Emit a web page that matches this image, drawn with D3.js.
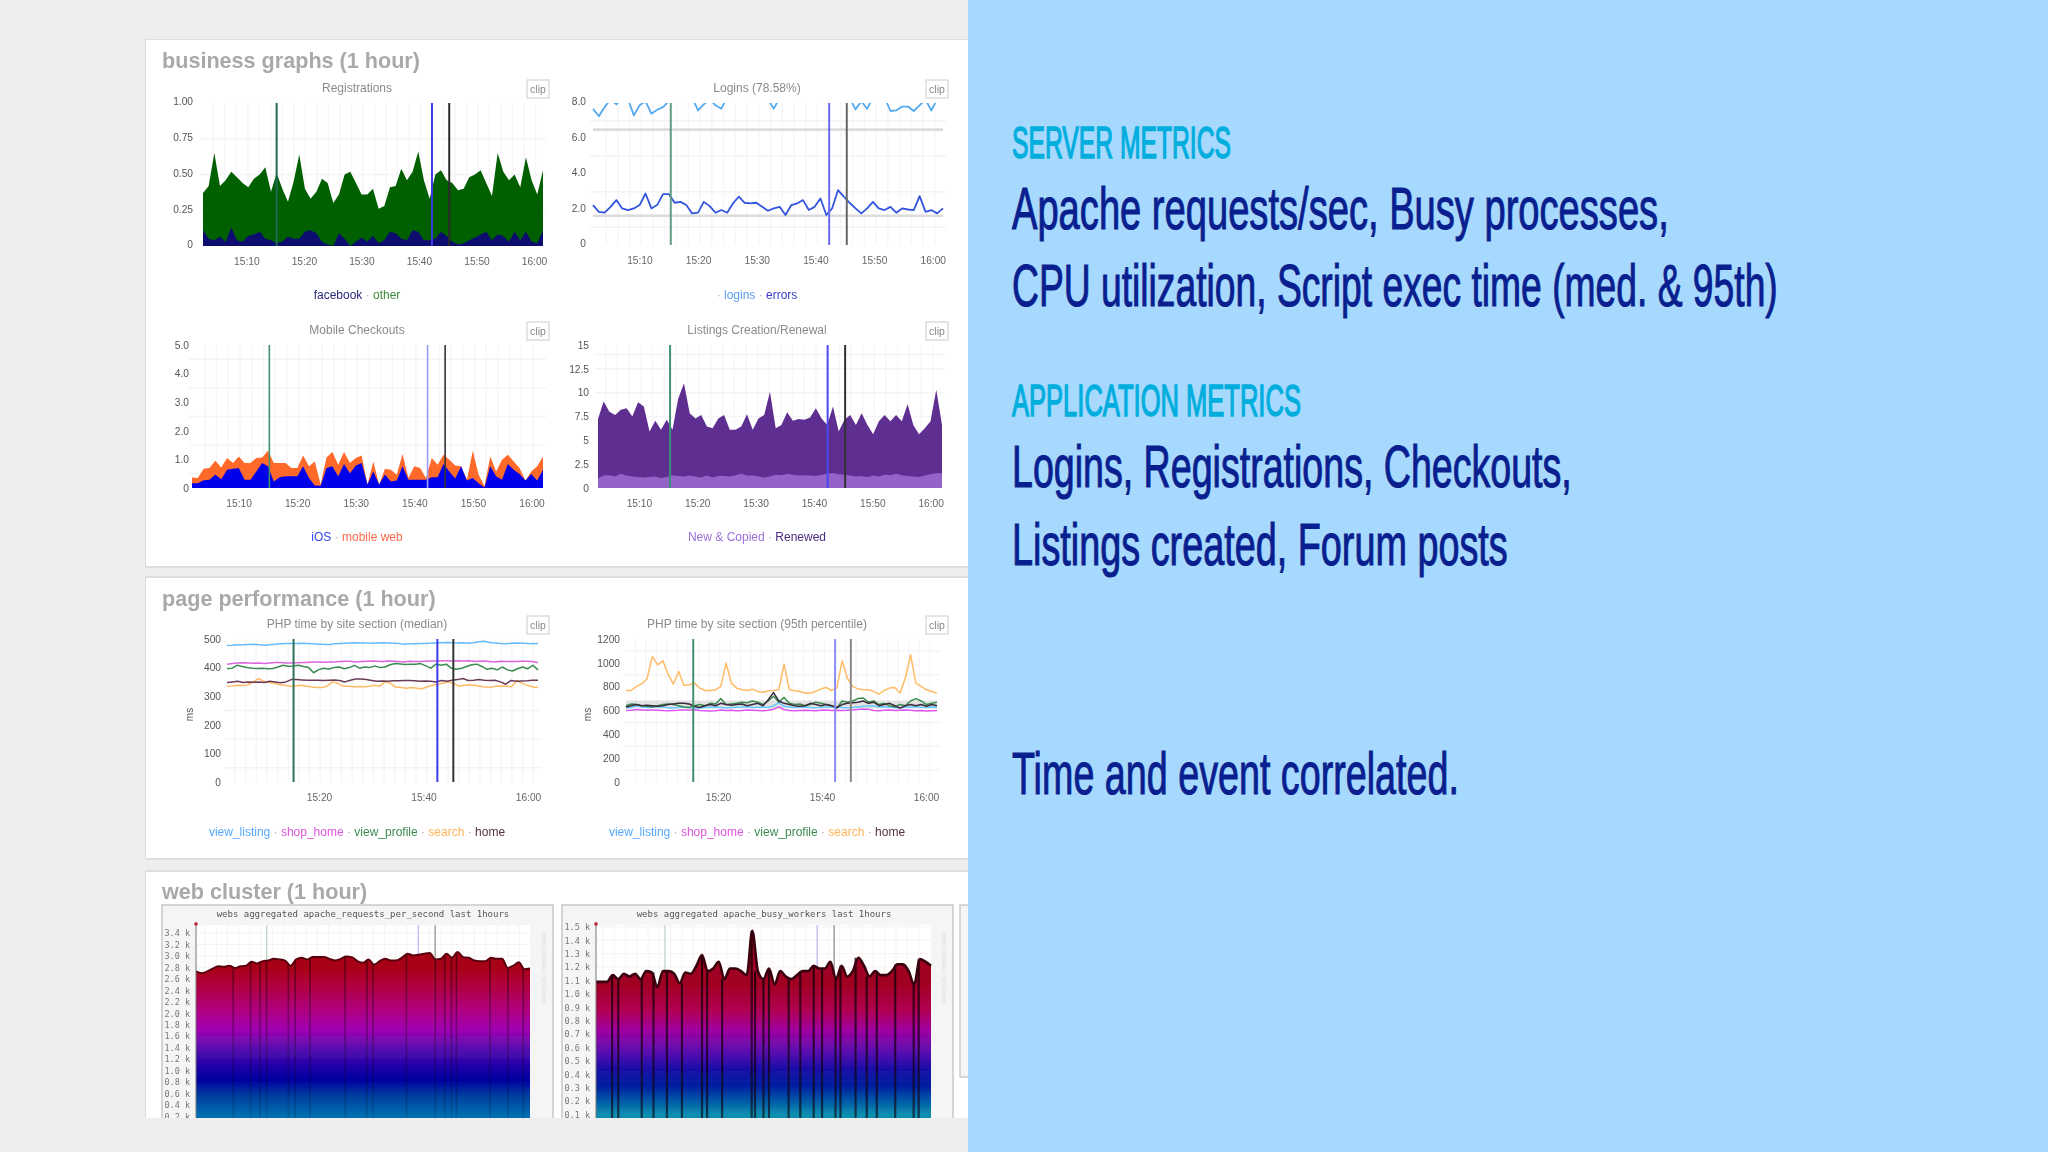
<!DOCTYPE html>
<html><head><meta charset="utf-8">
<script src="https://cdn.jsdelivr.net/npm/d3@7"></script>
<style>html,body{margin:0;padding:0;background:#eee}svg{display:block}text{font-family:"Liberation Sans",sans-serif}</style>
</head><body><svg id="c" width="2048" height="1152"></svg>
<script>
// ---------- data (minute samples, 15:02 -> 16:02) ----------
const sectionTitles = ["business graphs (1 hour)","page performance (1 hour)","web cluster (1 hour)"];
const eventMinutes = [15,42,45];

const regFacebook=[.11,.05,.04,.065,.03,.13,.04,.03,.07,.08,.10,.05,.04,.02,.03,.065,.05,.05,.10,.11,.09,.03,.01,0,.09,.05,0,.03,.06,.03,.07,.02,.04,.10,.09,.05,.04,.11,.10,.04,.04,.05,.10,.07,.03,.01,.02,.04,.06,.08,.10,.04,.08,.07,.03,.10,.04,.10,.03,.02,.11];
const regOther=[.37,.42,.65,.42,.46,.52,.48,.44,.41,.47,.50,.55,.38,.51,.40,.31,.45,.64,.40,.33,.38,.47,.44,.30,.36,.50,.52,.44,.36,.36,.40,.26,.28,.41,.42,.54,.46,.52,.66,.46,.33,.50,.53,.46,.44,.39,.40,.48,.50,.53,.44,.35,.65,.52,.46,.50,.41,.62,.46,.36,.53];

const loginsHits=[7.68,7.25,7.77,8.2,7.92,8.3,8.2,7.3,7.87,8.1,7.4,7.62,7.77,8.1,8.3,8.3,8.2,8.3,7.58,7.92,8.2,7.87,7.68,8.3,8.3,8.3,8.3,8.3,8.3,8.3,8.2,7.68,8.3,8.3,8.3,8.3,8.3,8.3,8.3,8.3,8.3,8.3,8.3,8.3,8.3,7.64,8.1,7.68,8.3,8.3,8.3,7.55,7.58,7.8,7.8,7.55,7.87,8.2,7.58,8.2,8.3];
const loginsErrors=[2.25,1.87,1.82,2.15,2.53,2.06,1.97,2.06,2.25,2.9,2.06,2.25,2.87,2.87,2.38,2.43,2.25,1.78,1.82,2.43,2.19,1.82,1.97,1.82,2.34,2.72,2.38,2.34,2.38,2.15,1.93,2.06,2.15,1.69,2.25,2.34,2.53,1.97,2.15,2.62,1.69,2.06,3.09,2.72,2.38,2.06,1.78,2.06,2.43,2.06,1.97,2.15,1.82,2.06,2.0,1.97,2.75,1.87,1.97,1.78,2.06];
const loginsBands=[6.5,1.65];

const mobileWeb=[.37,.35,.67,.7,.95,.72,1.05,.87,1.1,.87,.87,1.05,1.07,1.3,.87,.87,.87,.7,.7,1.14,.76,.93,.12,1.07,1.26,.81,1.26,.87,1.05,1.14,.12,.93,.12,.67,.64,.46,1.19,.35,.76,.7,.35,1.05,.81,1.16,.99,.79,.76,.29,1.3,.46,.06,1.1,.58,.99,1.16,.93,.7,.26,.58,.76,1.1];
const mobileIOS=[.17,.17,.27,.29,.47,.31,.64,.67,.7,.29,.29,.58,.87,.76,.23,.38,.41,.41,.41,.76,.35,.09,.08,.7,.76,.41,.84,.52,.79,.87,.12,.58,.12,.47,.23,.26,.76,.29,.29,.29,.29,.38,.38,.84,.58,.33,.76,.26,.35,.17,.02,.76,.41,.29,.84,.64,.49,.26,.49,.26,.64];

const listingsRenewed=[7.25,9.07,8.0,7.67,8.2,8.37,7.5,9.0,8.55,5.93,7.05,6.1,7.15,6.1,9.4,11,7.85,7.3,7.67,6.45,6.28,7.3,7.67,6.1,6.1,6.45,7.74,6.1,7.3,7.67,10.1,6.28,6.6,7.95,7.05,7.25,7.15,7.4,8.37,7.3,6.6,8.55,5.93,7.15,7.67,6.6,7.85,6.6,5.65,7,7.67,7,7.67,7,8.79,6.6,5.65,6.28,7,10.3,6.6];
const listingsNew=[1.0,1.3,1.35,1.2,1.5,1.3,1.2,1.15,1.1,1.15,1.2,1.05,1.15,1.35,1.25,1.2,1.3,1.2,1.1,1.3,1.1,1.25,1.25,1.2,1.35,1.5,1.3,1.3,1.2,1.1,1.2,1.4,1.35,1.5,1.4,1.3,1.35,1.3,1.25,1.4,1.5,1.55,1.45,1.4,1.3,1.2,1.25,1.15,1.3,1.2,1.4,1.35,1.5,1.35,1.25,1.2,1.15,1.3,1.45,1.55,1.55];

const medViewListing=[477,478,480,480,481,482,480,478,480,482,483,484,484,484,485,484,483,482,482,480,483,484,485,486,487,486,486,485,486,487,486,485,484,482,483,483,484,484,485,486,487,488,487,486,487,485,487,490,492,488,486,484,483,485,486,485,484,483,484];
const medShopHome=[412,414,416,417,416,415,416,414,416,418,418,416,416,417,418,418,420,420,419,420,420,421,422,422,420,421,422,423,422,421,423,422,421,420,422,421,421,422,423,423,424,424,423,424,423,424,422,422,423,421,420,422,421,421,421,422,422,421,417];
const medViewProfile=[397,398,408,404,400,398,397,398,396,397,402,408,405,406,408,404,400,382,393,398,395,400,402,396,400,408,398,402,400,406,400,402,410,414,413,411,412,412,414,406,398,412,408,412,398,394,398,404,410,412,404,394,398,392,402,392,388,396,402,396,408,392];
const medSearch=[335,336,338,337,340,350,362,352,348,345,340,338,335,336,338,336,332,330,330,335,350,345,335,335,333,334,333,335,338,335,350,345,332,330,328,330,328,326,333,338,342,345,350,345,335,338,340,338,335,332,331,335,336,335,333,355,345,338,332,330];
const medHome=[348,350,352,348,350,349,350,348,352,350,347,350,358,358,357,356,356,356,355,356,357,355,350,356,360,360,358,355,352,353,352,354,354,355,355,354,352,353,352,350,355,352,356,358,362,355,356,358,356,355,356,350,342,355,352,353,354,356,356];

const p95ViewListing=[620,625,640,630,625,628,632,630,622,620,625,630,625,622,620,625,628,630,625,622,625,628,630,632,625,628,630,625,640,665,635,630,625,628,630,625,622,628,630,632,628,625,622,626,630,635,638,640,630,632,630,625,622,628,630,632,628,625,630,628];
const p95ShopHome=[600,602,608,605,602,605,603,600,598,600,602,605,604,606,600,598,596,598,604,600,602,598,600,605,603,600,598,602,610,630,606,600,598,600,602,600,598,602,604,600,603,600,602,605,608,612,610,600,598,602,605,600,602,604,602,598,600,596,598,600];
const p95ViewProfile=[640,655,650,640,635,630,640,650,655,650,640,630,625,640,650,640,660,655,700,650,655,660,670,665,680,670,650,680,720,670,710,660,650,655,640,650,670,660,650,640,620,680,670,680,700,705,670,680,650,660,640,630,650,640,680,700,680,650,660,670];
const p95Search=[768,768,802,824,866,1053,983,1017,905,821,927,810,816,830,788,768,768,774,802,997,830,788,774,768,779,760,754,765,768,774,989,774,765,760,746,746,760,782,793,768,788,1017,871,802,782,774,774,760,737,768,788,793,746,871,1067,830,802,774,760,746];
const p95Home=[630,640,650,640,645,640,635,640,650,655,660,660,655,635,625,640,650,640,660,650,645,650,655,640,650,660,640,690,750,680,660,650,640,635,640,660,650,640,650,640,625,650,660,665,670,680,660,670,640,650,660,640,620,640,650,640,650,635,650,640];
const p95Band=[650];

const requestsTotal=[2.73,2.70,2.73,2.78,2.82,2.81,2.83,2.79,2.82,2.83,2.90,2.87,2.91,2.92,2.95,2.94,2.92,2.83,2.94,2.97,2.94,2.98,2.98,2.98,2.95,2.92,2.95,2.99,2.98,2.91,2.88,2.94,2.85,2.91,2.95,2.92,2.92,2.97,3.04,3.01,3.02,3.04,3.05,2.94,2.95,3.04,2.97,3.07,2.98,2.97,2.92,2.91,2.91,2.97,2.95,2.95,2.79,2.83,2.89,2.77,2.78];
const requestsDark=[6.7,9.8,11.5,12.7,16.6,17.8,20.5,26.8,30.7,31.8,37.8,43,44.7,45.9,46.8,52.8,56.1,58.8];
const requestsTicks=[3.4,3.2,3.0,2.8,2.6,2.4,2.2,2.0,1.8,1.6,1.4,1.2,1.0,0.8,0.6,0.4,0.2];
const requestsStopValues=[2.82,2.47,2.06,1.72,1.42,1.08,.84,.55,.2];
const requestsStopColors=["#a80414","#b00040","#b00080","#a000b0","#6010b0","#2000a8","#0000a0","#0040a0","#0070b0"];

const workersTotal=[1.09,1.09,1.09,1.14,1.11,1.15,1.13,1.15,1.11,1.17,1.16,1.05,1.17,1.17,1.15,1.08,1.16,1.15,1.21,1.29,1.17,1.19,1.24,1.11,1.19,1.19,1.17,1.14,1.47,1.17,1.11,1.19,1.07,1.17,1.13,1.11,1.14,1.17,1.17,1.21,1.19,1.19,1.24,1.11,1.21,1.13,1.17,1.27,1.21,1.13,1.17,1.14,1.14,1.17,1.22,1.22,1.17,1.07,1.26,1.24,1.21];
const workersDark=[2.9,4,8.2,10.3,12.7,15.4,19,19.9,22.6,27.9,28.5,30,31,34.5,36.6,39,40.5,42.9,43.8,46.5,48.5,50.3,53.6,56.9,57.8];
const workersTicks=[1.5,1.4,1.3,1.2,1.1,1.0,0.9,0.8,0.7,0.6,0.5,0.4,0.3,0.2,0.1];
const workersStopValues=[1.08,.88,.73,.58,.435,.31,.19,.1];
const workersStopColors=["#a00420","#b00050","#a000a0","#6010b0","#1810a8","#0020a0","#0060a8","#1090b0"];

const timeTicks=[10,20,30,40,50,60];
const timeTicksWide=[20,40,60];
const gridMinutes=[4,6,8,10,12,14,16,18,20,22,24,26,28,30,32,34,36,38,40,42,44,46,48,50,52,54,56,58,60];

const rightText=[
 {t:"SERVER METRICS",x0:1012,x1:1231,b:158,s:45,c:"#00aede",w:1.5},
 {t:"Apache requests/sec, Busy processes,",x0:1012,x1:1669,b:229,s:60,c:"#0a1f8f",w:1.1},
 {t:"CPU utilization, Script exec time (med. & 95th)",x0:1012,x1:1778,b:306,s:60,c:"#0a1f8f",w:1.1},
 {t:"APPLICATION METRICS",x0:1012,x1:1301,b:416,s:45,c:"#00aede",w:1.5},
 {t:"Logins, Registrations, Checkouts,",x0:1012,x1:1572,b:487,s:60,c:"#0a1f8f",w:1.1},
 {t:"Listings created, Forum posts",x0:1012,x1:1508,b:565,s:60,c:"#0a1f8f",w:1.1},
 {t:"Time and event correlated.",x0:1012,x1:1459,b:794,s:60,c:"#0a1f8f",w:1.1}
];

// ---------- drawing ----------
const svg=d3.select("#c");
const defs=svg.append("defs");
const blur=defs.append("filter").attr("id","soft").attr("x",0).attr("y",0).attr("width",1).attr("height",1);
blur.append("feGaussianBlur").attr("stdDeviation",0.7);
defs.append("clipPath").attr("id","screenClip").append("rect").attr("x",145).attr("y",0).attr("width",823).attr("height",1118);

svg.append("rect").attr("width",2048).attr("height",1152).attr("fill","#eeeeee");
const shot=svg.append("g").attr("clip-path","url(#screenClip)").append("g").attr("filter","url(#soft)");

[[39,528],[577,282],[871,260]].forEach(([y,h])=>{
  shot.append("rect").attr("x",145).attr("y",y).attr("width",840).attr("height",h)
    .attr("fill","#fff").attr("stroke","#dedede").attr("stroke-width",2);
});
[[162,68],[162,606],[162,899]].forEach(([x,y],i)=>{
  shot.append("text").attr("x",x).attr("y",y).attr("font-size",21.6).attr("font-weight","bold")
    .attr("fill","#a9a9a9").text(sectionTitles[i]);
});

const T=m=>new Date(2014,0,1,15,0,m*60);
const fmt=d3.timeFormat("%H:%M");
const idSeq={n:0};

function frame(p){
  const x=d3.scaleTime().domain([T(p.m0),T(p.m1)]).range([p.x0,p.x1]);
  const y=d3.scaleLinear().domain(p.yDomain).range([p.y0,p.y1]);
  const g=shot.append("g");
  const id="plot"+(idSeq.n++);
  defs.append("clipPath").attr("id",id).append("rect")
    .attr("x",p.x0-1).attr("y",p.y1).attr("width",p.x1-p.x0+2).attr("height",p.y0-p.y1+1);
  return {x,y,g,id};
}
function series(arr,p){const n=arr.length-1;return arr.map((v,i)=>({t:T(p.m0+(p.m1-p.m0)*i/n),v}));}

function flotPanel(p){
  const {x,y,g,id}=frame(p);
  g.append("g").selectAll("line").data(gridMinutes.filter(m=>m>=p.m0&&m<=p.m1)).join("line")
    .attr("x1",d=>x(T(d))).attr("x2",d=>x(T(d))).attr("y1",p.y1).attr("y2",p.y0)
    .attr("stroke","#f7f5fa").attr("stroke-width",1.5);
  g.append("g").selectAll("line").data(p.grid).join("line")
    .attr("x1",p.x0-3).attr("x2",p.x1+3).attr("y1",d=>y(d)).attr("y2",d=>y(d))
    .attr("stroke","#f4f3f6").attr("stroke-width",1.5);
  const plot=g.append("g").attr("clip-path",`url(#${id})`);
  (p.bands||[]).forEach(b=>{
    plot.selectAll(null).data(b.values).join("line").attr("x1",p.x0).attr("x2",p.x1)
      .attr("y1",d=>y(d)).attr("y2",d=>y(d)).attr("stroke",b.color).attr("stroke-width",b.w).attr("opacity",b.o);
  });
  (p.areas||[]).forEach(a=>{
    const area=d3.area().x(d=>x(d.t)).y0(y(0)).y1(d=>y(d.v));
    plot.append("path").datum(series(a.values,p)).attr("d",area).attr("fill",a.color);
  });
  (p.lines||[]).forEach(l=>{
    const line=d3.line().x(d=>x(d.t)).y(d=>y(d.v));
    plot.append("path").datum(series(l.values,p)).attr("d",line).attr("fill","none")
      .attr("stroke",l.color).attr("stroke-width",l.w||1.5).attr("stroke-linejoin","round");
  });
  g.append("g").selectAll("line").data(eventMinutes).join("line")
    .attr("x1",d=>x(T(d))).attr("x2",d=>x(T(d))).attr("y1",p.y1).attr("y2",p.y0)
    .attr("stroke",(d,i)=>p.events[i]).attr("stroke-width",p.eventW||2);
  const xa=p.tickRange?d3.scaleTime().domain([T(20),T(60)]).range(p.tickRange):x;
  const ax=g.append("g").attr("transform",`translate(${p.tickShift||0},${p.y0+15})`)
    .call(d3.axisBottom(xa).tickValues(p.ticks.map(T)).tickSize(0).tickFormat(fmt));
  ax.select(".domain").remove();
  ax.selectAll("text").attr("font-size",10.2).attr("fill","#666").attr("dy","0.35em").attr("y",0);
  const ay=g.append("g").attr("transform",`translate(${p.yLabelX},${p.labelDy||0})`)
    .call(d3.axisLeft(y).tickValues(p.yTicks).tickSize(0).tickFormat(p.yFormat));
  ay.select(".domain").remove();
  ay.selectAll("text").attr("x",0).attr("font-size",10.2).attr("fill","#555");
  g.append("text").attr("x",p.titleX).attr("y",p.titleY).attr("text-anchor","middle")
    .attr("font-size",12).attr("fill","#8a8a8a").text(p.title);
  g.append("rect").attr("x",p.clipX).attr("y",p.titleY-12).attr("width",22).attr("height",18)
    .attr("fill","#fff").attr("stroke","#d4d4d4").attr("stroke-width",1.2);
  g.append("text").attr("x",p.clipX+11).attr("y",p.titleY+1).attr("text-anchor","middle")
    .attr("font-size",10.5).attr("fill","#888").text("clip");
  const lg=g.append("text").attr("x",p.titleX).attr("y",p.legendY).attr("text-anchor","middle").attr("font-size",12);
  p.legend.forEach((e,i)=>{
    if(i>0||p.legendLead) lg.append("tspan").attr("fill","#aaa").text(" \u00b7 ");
    lg.append("tspan").attr("fill",e[1]).text(e[0]);
  });
  if(p.unit) g.append("text").attr("transform",`translate(${p.unitX},${(p.y0+p.y1)/2+4}) rotate(-90)`)
    .attr("text-anchor","middle").attr("font-size",10).attr("fill","#555").text(p.unit);
}

const darkEvents=["#1f6b55","#3a3ae0","#2a2a2a"];
flotPanel({title:"Registrations",titleX:357,titleY:92,clipX:527,legendY:299,x0:203,x1:543,m0:2.2,m1:61.3,y0:246,y1:103,tickShift:-1.5,labelDy:-1.3,
  yDomain:[0,1],yTicks:[0,.25,.5,.75,1],yFormat:d=>d===0?"0":d.toFixed(2),grid:[.25,.5,.75],yLabelX:193,ticks:timeTicks,
  areas:[{values:regOther,color:"#046004"},{values:regFacebook,color:"#0a0a70"}],events:darkEvents,
  legend:[["facebook","#2a2a7a"],["other","#3a8a3a"]]});
flotPanel({title:"Logins (78.58%)",titleX:757,titleY:92,clipX:926,legendY:299,x0:593,x1:943,m0:1.76,m1:61.4,y0:245,y1:103,tickShift:-2,labelDy:-1.3,
  yDomain:[0,8],yTicks:[0,2,4,6,8],yFormat:d=>d===0?"0":d.toFixed(1),grid:[1,3,5,7],yLabelX:586,ticks:timeTicks,
  bands:[{values:loginsBands,color:"#dcdcdc",w:2.6,o:1}],
  lines:[{values:loginsHits,color:"#55aaee",w:1.8},{values:loginsErrors,color:"#3355dd",w:1.8}],
  events:["#5f9a82","#6a6af0","#666"],legendLead:true,legend:[["logins","#5a9cf0"],["errors","#3a3ac8"]]});
flotPanel({title:"Mobile Checkouts",titleX:357,titleY:334,clipX:527,legendY:541,x0:192,x1:543,m0:1.8,m1:61.7,y0:488,y1:345,tickShift:-1.5,
  yDomain:[0,5],yTicks:[0,1,2,3,4,5],yFormat:d=>d===0?"0":d.toFixed(1),grid:[.5,1.5,2.5,3.5,4.5],yLabelX:189,ticks:timeTicks,
  areas:[{values:mobileWeb,color:"#ff6a2a"},{values:mobileIOS,color:"#0505ea"}],
  events:["#3f9070","#9c9cff","#333"],eventW:1.6,legend:[["iOS","#3344ee"],["mobile web","#ff6a4a"]]});
flotPanel({title:"Listings Creation/Renewal",titleX:757,titleY:334,clipX:926,legendY:541,x0:598,x1:942,m0:2.65,m1:61.6,y0:488,y1:345,tickShift:-2,
  yDomain:[0,15],yTicks:[0,2.5,5,7.5,10,12.5,15],yFormat:d=>d===0?"0":String(d),grid:[7.5,10,12.5,14],yLabelX:589,ticks:timeTicks,
  areas:[{values:listingsRenewed,color:"#5f2d91"},{values:listingsNew,color:"#9464c8"}],
  events:["#3f8f78","#4a4af0","#333"],legend:[["New & Copied","#9a70d8"],["Renewed","#4a2a80"]]});

const phpLegend=[["view_listing","#55aaff"],["shop_home","#dd55dd"],["view_profile","#3c8c50"],["search","#ffb45a"],["home","#553344"]];
flotPanel({title:"PHP time by site section (median)",titleX:357,titleY:628,clipX:527,legendY:836,x0:227,x1:538,m0:2.5,m1:60.9,y0:782,y1:639,tickRange:[319,528],
  yDomain:[0,500],yTicks:[0,100,200,300,400,500],yFormat:d=>String(d),grid:[50,150,250],yLabelX:221,ticks:timeTicksWide,unit:"ms",unitX:193,
  lines:[{values:medViewListing,color:"#66bbff"},{values:medShopHome,color:"#dd66dd"},{values:medViewProfile,color:"#3c8c50"},{values:medSearch,color:"#ffbb66"},{values:medHome,color:"#6b3a55"}],
  events:["#2f6f58","#3a3af0","#333"],legend:phpLegend});
flotPanel({title:"PHP time by site section (95th percentile)",titleX:757,titleY:628,clipX:926,legendY:836,x0:626,x1:937,m0:2.2,m1:61.4,y0:782,y1:639,tickRange:[718,926],
  yDomain:[0,1200],yTicks:[0,200,400,600,800,1000,1200],yFormat:d=>String(d),grid:[100,300,500,900,1100],yLabelX:620,ticks:timeTicksWide,unit:"ms",unitX:591,
  bands:[{values:p95Band,color:"#bbbbbb",w:8,o:.4}],
  lines:[{values:p95ViewListing,color:"#66ccff"},{values:p95ShopHome,color:"#dd55ee"},{values:p95ViewProfile,color:"#3c8c50"},{values:p95Search,color:"#ffbb66"},{values:p95Home,color:"#3a2a3a"}],
  events:["#3f8f6a","#8c8cf8","#888"],legend:phpLegend});

function gangliaPanel(p){
  const g0=shot.append("g");
  g0.append("rect").attr("x",p.bx0).attr("y",905).attr("width",p.bx1-p.bx0).attr("height",260)
    .attr("fill","#f5f5f5").attr("stroke","#c8c8c8").attr("stroke-width",1.5);
  g0.append("rect").attr("x",p.x0).attr("y",p.y1).attr("width",p.x1-p.x0).attr("height",p.y0-p.y1).attr("fill","#fff");
  const {x,y,g}=frame(p);
  g.append("g").selectAll("line").data(p.yTicks).join("line")
    .attr("x1",p.x0).attr("x2",p.x1).attr("y1",d=>y(d)).attr("y2",d=>y(d)).attr("stroke","#f8f1f1");
  g.append("g").selectAll("line").data(gridMinutes).join("line")
    .attr("x1",d=>x(T(d))).attr("x2",d=>x(T(d))).attr("y1",p.y1).attr("y2",p.y0).attr("stroke","#f8f3f1");
  const gid="grad"+(idSeq.n++);
  const a=y(p.stopValues[0]),b=y(p.stopValues[p.stopValues.length-1]);
  const grad=defs.append("linearGradient").attr("id",gid).attr("gradientUnits","userSpaceOnUse")
    .attr("x1",0).attr("x2",0).attr("y1",a).attr("y2",b);
  p.stopValues.forEach((v,i)=>grad.append("stop").attr("offset",(y(v)-a)/(b-a)).attr("stop-color",p.stopColors[i]));
  g.append("g").selectAll("line").data(eventMinutes).join("line")
    .attr("x1",d=>x(T(d))).attr("x2",d=>x(T(d))).attr("y1",p.y1).attr("y2",p.y0)
    .attr("stroke",(d,i)=>["#b8d0c4","#b8b8f0","#888"][i]).attr("stroke-width",1.2);
  const s=series(p.values,p);
  g.append("path").datum(s).attr("d",d3.area().x(d=>x(d.t)).y0(y(0)).y1(d=>y(d.v)).curve(d3.curveMonotoneX)).attr("fill",`url(#${gid})`);
  const top=m=>p.values[Math.min(Math.round(m),p.values.length-1)];
  const sid="streak"+(idSeq.n++);
  const sg=defs.append("linearGradient").attr("id",sid).attr("gradientUnits","userSpaceOnUse")
    .attr("x1",0).attr("x2",0).attr("y1",y(p.yDomain[1])).attr("y2",p.y0);
  sg.append("stop").attr("offset",0).attr("stop-color","#10000c").attr("stop-opacity",p.streakTop);
  sg.append("stop").attr("offset",1).attr("stop-color","#10000c").attr("stop-opacity",p.streakBottom);
  g.append("g").selectAll("rect").data(p.dark).join("rect")
    .attr("x",d=>x(T(p.m0+(p.m1-p.m0)*d/60))-p.streakW/2).attr("width",p.streakW)
    .attr("y",d=>y(top(d))).attr("height",d=>p.y0-y(top(d))).attr("fill",`url(#${sid})`);
  g.append("path").datum(s).attr("d",d3.line().x(d=>x(d.t)).y(d=>y(d.v)).curve(d3.curveMonotoneX))
    .attr("fill","none").attr("stroke",p.edge).attr("stroke-width",p.edgeW);
  g.append("line").attr("x1",p.x0).attr("x2",p.x0).attr("y1",p.y1-3).attr("y2",p.y0).attr("stroke","#777");
  g.append("circle").attr("cx",p.x0).attr("cy",p.y1-1).attr("r",1.8).attr("fill","#c02040");
  g.append("text").attr("x",p.titleX).attr("y",917).attr("text-anchor","middle")
    .style("font-family","DejaVu Sans Mono").attr("font-size",p.titleSize).attr("fill","#555").text(p.title);
  const ay=g.append("g").attr("transform",`translate(${p.yLabelX},0)`)
    .call(d3.axisLeft(y).tickValues(p.yTicks).tickSize(0).tickFormat(d=>d.toFixed(1)+" k"));
  ay.select(".domain").remove();
  ay.selectAll("text").attr("x",0).attr("font-size",8.5).attr("fill","#777").style("font-family","DejaVu Sans Mono");
  g.append("text").attr("transform",`translate(${p.bx1-7},${968}) rotate(-90)`).attr("text-anchor","middle")
    .attr("font-size",5.5).attr("fill","#d8d8d8").text("RRDTOOL / TOBI OETIKER");
}
gangliaPanel({title:"webs aggregated apache_requests_per_second last 1hours",titleX:363,titleSize:9,bx0:162,bx1:553,x0:196,x1:530,m0:2.4,m1:61.9,y0:1128,y1:925,
  yDomain:[0,3.54],yTicks:requestsTicks,yLabelX:190,values:requestsTotal,dark:requestsDark,stopValues:requestsStopValues,stopColors:requestsStopColors,
  edge:"#5a0410",edgeW:2,streakW:1.6,streakTop:.55,streakBottom:.12});
gangliaPanel({title:"webs aggregated apache_busy_workers last 1hours",titleX:764,titleSize:9,bx0:562,bx1:953,x0:596,x1:931,m0:2.75,m1:62.2,y0:1128,y1:925,
  yDomain:[0,1.514],yTicks:workersTicks,yLabelX:590,values:workersTotal,dark:workersDark,stopValues:workersStopValues,stopColors:workersStopColors,
  edge:"#3a0410",edgeW:2.6,streakW:2.2,streakTop:.8,streakBottom:.6});
shot.append("rect").attr("x",960).attr("y",905).attr("width",20).attr("height",172).attr("fill","#f5f5f5").attr("stroke","#c0c0c0").attr("stroke-width",1.2);

// right panel
svg.append("rect").attr("x",968).attr("y",0).attr("width",1080).attr("height",1152).attr("fill","#a6d9fd");
svg.append("g").selectAll("text").data(rightText).join("text")
  .attr("font-size",d=>d.s).attr("fill",d=>d.c).attr("stroke",d=>d.c).attr("stroke-width",d=>d.w)
  .style("font-family",'"Liberation Sans Narrow","Liberation Sans",sans-serif')
  .text(d=>d.t)
  .attr("transform",function(d){return `translate(${d.x0},${d.b}) scale(${(d.x1-d.x0)/this.getComputedTextLength()},1)`;});
</script></body></html>
